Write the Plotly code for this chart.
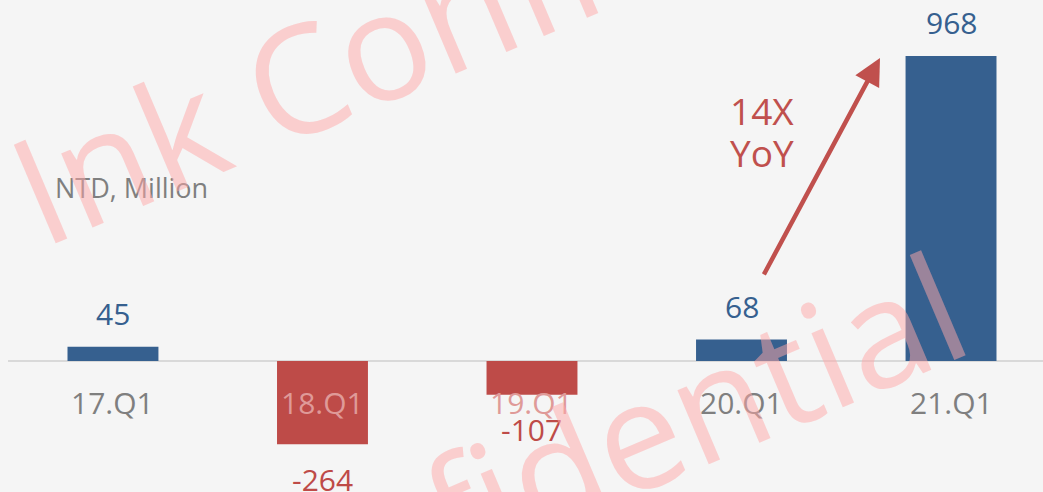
import plotly.graph_objects as go

categories = ["17.Q1", "18.Q1", "19.Q1", "20.Q1", "21.Q1"]
values = [45, -264, -107, 68, 968]
unit_label = "NTD, Million"
growth_lines = ["14X", "YoY"]
watermark = "Ink Confidential"

BLUE = "#36608f"
RED = "#be4b48"
ARROW = "#c0504d"
GRAY = "#7f7f7f"
PINK_LABEL = "#df9a98"
BG = "#f5f5f5"
FONT = "Open Sans"

bar_colors = [BLUE if v >= 0 else RED for v in values]

fig = go.Figure()
fig.add_trace(go.Bar(
    x=categories, y=values,
    marker=dict(color=bar_colors, line=dict(width=0)),
    hoverinfo="skip",
))

annotations = []
# value labels
for c, v, col in zip(categories, values, bar_colors):
    annotations.append(dict(
        x=c, y=v, xref="x", yref="y", text=str(v), showarrow=False,
        yshift=33 if v >= 0 else -35,
        font=dict(family=FONT, size=30, color=col),
        xanchor="center", yanchor="middle",
    ))
# category labels
for c, v in zip(categories, values):
    annotations.append(dict(
        x=c, y=0, xref="x", yref="y", text=c, showarrow=False,
        yshift=-41,
        font=dict(family=FONT, size=30, color=PINK_LABEL if v < 0 else GRAY),
        xanchor="center", yanchor="middle",
    ))
# unit label
annotations.append(dict(
    x=0.0435, y=0.618, xref="paper", yref="paper", text=unit_label,
    showarrow=False, xanchor="left", yanchor="middle",
    font=dict(family=FONT, size=27, color=GRAY),
))
# growth text
for i, line in enumerate(growth_lines):
    annotations.append(dict(
        x=0.7285, y=1 - (110 + 42 * i) / 492, xref="paper", yref="paper",
        text=line, showarrow=False, xanchor="center", yanchor="middle",
        font=dict(family=FONT, size=37, color=ARROW),
    ))
# growth arrow
annotations.append(dict(
    x=3.661, y=962, xref="x", yref="y",
    ax=3.103, ay=270, axref="x", ayref="y",
    text="", showarrow=True, arrowhead=2, arrowsize=1.2, arrowwidth=4.5,
    arrowcolor=ARROW, standoff=0, startstandoff=0,
))
# watermarks
for wx, wy in [(0.4995, 1.0386), (0.427, -0.0386)]:
    annotations.append(dict(
        x=wx, y=wy, xref="paper", yref="paper", text=watermark,
        showarrow=False, textangle=-23, xanchor="center", yanchor="middle",
        font=dict(family=FONT, size=150, color="rgba(255,168,168,0.5)"),
    ))

fig.update_layout(
    width=1043, height=492,
    margin=dict(l=8, r=0, t=0, b=0),
    paper_bgcolor=BG, plot_bgcolor=BG,
    showlegend=False,
    bargap=0.566,
    xaxis=dict(range=[-0.501, 4.439], showticklabels=False, showgrid=False,
               zeroline=False, showline=False, ticks="", fixedrange=True),
    yaxis=dict(range=[-415.7, 1145.7], showticklabels=False, showgrid=False,
               zeroline=True, zerolinecolor="#d9d9d9", zerolinewidth=2,
               showline=False, ticks="", fixedrange=True),
    annotations=annotations,
)

fig.write_html(
    "out.html",
    config={"displayModeBar": False},
    post_script="document.body.style.margin='0';document.body.style.overflow='hidden';",
)
